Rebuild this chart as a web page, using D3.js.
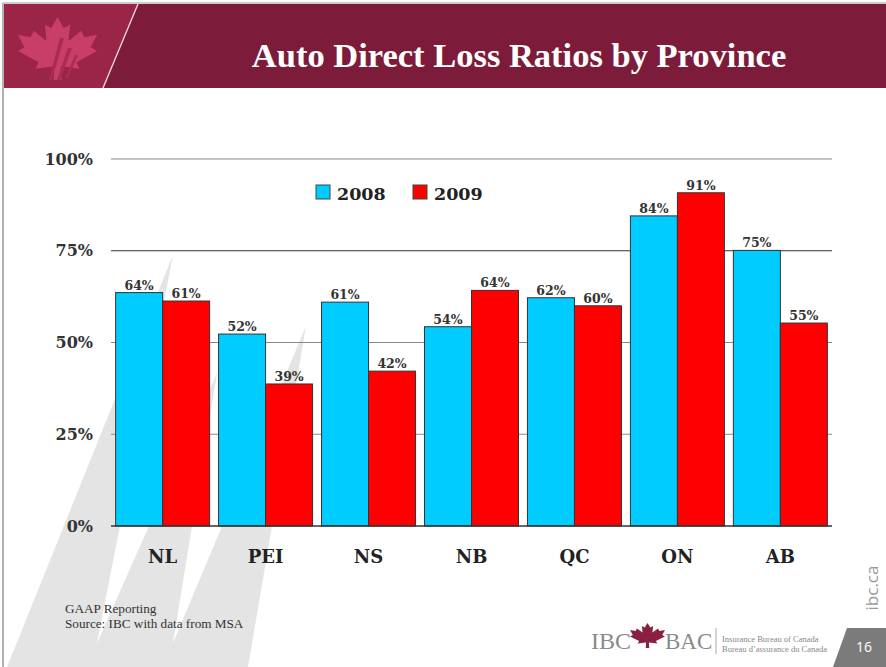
<!DOCTYPE html>
<html>
<head>
<meta charset="utf-8">
<script src="https://cdn.jsdelivr.net/npm/d3@7"></script>
<style>
  body { margin: 0; background: #fff; }
  svg { display: block; }
</style>
</head>
<body>
<script>
const provinces = ["NL", "PEI", "NS", "NB", "QC", "ON", "AB"];
const seriesNames = ["2008", "2009"];
const ratios2008 = [63.6, 52.3, 61.0, 54.3, 62.2, 84.5, 75.1];
const ratios2009 = [61.3, 38.7, 42.2, 64.2, 60.0, 90.8, 55.3];
const labels2008 = ["64%", "52%", "61%", "54%", "62%", "84%", "75%"];
const labels2009 = ["61%", "39%", "42%", "64%", "60%", "91%", "55%"];
const yTicks = [0, 25, 50, 75, 100];

const W = 886, H = 667;
const marginLeft = 111, marginRight = 54, marginTop = 159, marginBottom = 141;
const serif = "'Liberation Serif', serif";
const wideSerif = "'DejaVu Serif', serif";
const colors = { "2008": "#00ccff", "2009": "#ff0000" };

const svg = d3.select("body").append("svg")
  .attr("width", W)
  .attr("height", H);

// background shards (gray with white wedges cut in)
svg.append("polygon")
  .attr("points", "7,667 173,255 97,643 217,373 173,643 306,326 248,667")
  .attr("fill", "#e4e4e4");

// page border
svg.append("line").attr("x1", 3).attr("y1", 3).attr("x2", 3).attr("y2", H)
  .attr("stroke", "#999").attr("stroke-width", 1.5);
svg.append("line").attr("x1", 3).attr("y1", 3).attr("x2", W).attr("y2", 3)
  .attr("stroke", "#bbb").attr("stroke-width", 1.5);

// header band
svg.append("rect").attr("x", 4).attr("y", 4).attr("width", W - 4).attr("height", 84)
  .attr("fill", "#7d1c3a");
svg.append("polygon")
  .attr("points", "4,4 138,4 103,88 4,88")
  .attr("fill", "#9a2547");
svg.append("line").attr("x1", 138).attr("y1", 4).attr("x2", 103).attr("y2", 88)
  .attr("stroke", "#f2dde3").attr("stroke-width", 1.3);

// maple leaf path (unit 100x100)
const leaf = "M50,0 L58,18 L66,12 L64,38 L80,22 L84,32 L100,28 L92,48 L100,54 L74,72 L78,82 L54,78 L55,100 L45,100 L46,78 L22,82 L26,72 L0,54 L8,48 L0,28 L16,32 L20,22 L36,38 L34,12 L42,18 Z";
svg.append("path")
  .attr("d", leaf)
  .attr("transform", "translate(18,17) scale(0.79,0.63)")
  .attr("fill", "#c93e68");
// streaks inside the header leaf
svg.append("g").selectAll("polygon")
  .data([
    [[60, 38], [64, 38], [52, 80], [49, 80]],
    [[68, 48], [72, 48], [60, 80], [57, 80]],
    [[75, 55], [78, 55], [68, 78], [65, 78]]
  ])
  .enter().append("polygon")
  .attr("points", d => d.map(p => p.join(",")).join(" "))
  .attr("fill", "#a92c53");

svg.append("text")
  .attr("x", 519).attr("y", 67)
  .attr("text-anchor", "middle")
  .attr("fill", "#fff")
  .style("font-family", serif)
  .style("font-weight", "bold")
  .style("font-size", "34.5px")
  .text("Auto Direct Loss Ratios by Province");

// chart
const width = W - marginLeft - marginRight;
const height = H - marginTop - marginBottom;
const g = svg.append("g").attr("transform", `translate(${marginLeft},${marginTop})`);

const x0 = d3.scaleBand().domain(provinces).range([0, width]).paddingInner(0.087).paddingOuter(0.045);
const x1 = d3.scaleBand().domain(seriesNames).range([0, x0.bandwidth()]);
const y = d3.scaleLinear().domain([0, 100]).range([height, 0]);

// gridlines
g.append("g").selectAll("line")
  .data(yTicks.filter(t => t > 0))
  .enter().append("line")
  .attr("x1", 0).attr("x2", width)
  .attr("y1", d => y(d)).attr("y2", d => y(d))
  .attr("stroke", d => d === 75 ? "#333" : "#888")
  .attr("stroke-width", 1.2);

// y axis labels
const yAxis = d3.axisLeft(y).tickValues(yTicks).tickFormat(d => d + "%").tickSize(0).tickPadding(18);
g.append("g").call(yAxis)
  .call(a => a.select(".domain").remove())
  .selectAll("text")
  .attr("fill", "#333")
  .style("font-family", wideSerif)
  .style("font-weight", "bold")
  .style("font-size", "16px");

const rows = provinces.map((p, i) => ({
  province: p,
  values: [
    { key: "2008", v: ratios2008[i], label: labels2008[i] },
    { key: "2009", v: ratios2009[i], label: labels2009[i] }
  ]
}));

const groups = g.append("g").selectAll("g")
  .data(rows)
  .enter().append("g")
  .attr("transform", d => `translate(${x0(d.province)},0)`);

groups.selectAll("rect")
  .data(d => d.values)
  .enter().append("rect")
  .attr("x", d => x1(d.key))
  .attr("y", d => y(d.v))
  .attr("width", x1.bandwidth())
  .attr("height", d => height - y(d.v))
  .attr("fill", d => colors[d.key])
  .attr("stroke", "#333")
  .attr("stroke-width", 1);

groups.selectAll("text")
  .data(d => d.values)
  .enter().append("text")
  .attr("x", d => x1(d.key) + x1.bandwidth() / 2)
  .attr("y", d => y(d.v) - 3)
  .attr("text-anchor", "middle")
  .attr("fill", "#333")
  .style("font-family", wideSerif)
  .style("font-weight", "bold")
  .style("font-size", "12.5px")
  .text(d => d.label);

// baseline
g.append("line").attr("x1", 0).attr("x2", width).attr("y1", height).attr("y2", height)
  .attr("stroke", "#333").attr("stroke-width", 1.5);

// x axis labels
const xAxis = d3.axisBottom(x0).tickSize(0).tickPadding(24);
g.append("g").attr("transform", `translate(0,${height})`).call(xAxis)
  .call(a => a.select(".domain").remove())
  .selectAll("text")
  .attr("fill", "#222")
  .style("font-family", wideSerif)
  .style("font-weight", "bold")
  .style("font-size", "18px");

// legend
const legend = svg.append("g").attr("transform", "translate(316,185)");
const legendItems = legend.selectAll("g")
  .data(seriesNames)
  .enter().append("g")
  .attr("transform", (d, i) => `translate(${i * 97},0)`);
legendItems.append("rect")
  .attr("width", 14).attr("height", 14)
  .attr("fill", d => colors[d])
  .attr("stroke", "#444");
legendItems.append("text")
  .attr("x", 21).attr("y", 15)
  .attr("fill", "#222")
  .style("font-family", wideSerif)
  .style("font-weight", "bold")
  .style("font-size", "17.5px")
  .text(d => d);

// footer notes
const notes = svg.append("g").style("font-family", serif).style("font-size", "13.2px").attr("fill", "#333");
notes.append("text").attr("x", 65).attr("y", 613).text("GAAP Reporting");
notes.append("text").attr("x", 65).attr("y", 628).text("Source: IBC with data from MSA");

// bottom-right logo
const logo = svg.append("g");
logo.append("text").attr("x", 591).attr("y", 649)
  .attr("fill", "#8a8a8a").style("font-family", serif).style("font-size", "24px").text("IBC");
logo.append("path")
  .attr("d", leaf)
  .attr("transform", "translate(630,623) scale(0.35,0.25)")
  .attr("fill", "#8b1f3f");
logo.append("text").attr("x", 665).attr("y", 649)
  .attr("fill", "#8a8a8a").style("font-family", serif).style("font-size", "23px").text("BAC");
logo.append("line").attr("x1", 716).attr("x2", 716).attr("y1", 628).attr("y2", 654)
  .attr("stroke", "#aaa");
logo.append("text").attr("x", 722).attr("y", 642)
  .attr("fill", "#888").style("font-family", serif).style("font-size", "8.5px").text("Insurance Bureau of Canada");
logo.append("text").attr("x", 722).attr("y", 652)
  .attr("fill", "#888").style("font-family", serif).style("font-size", "8.5px").text("Bureau d\u2019assurance du Canada");

// page number tab
svg.append("polygon").attr("points", "847,628 886,628 886,667 833,667")
  .attr("fill", "#7b7b7b");
svg.append("text").attr("x", 864).attr("y", 652)
  .attr("text-anchor", "middle").attr("fill", "#fff")
  .style("font-family", "'Open Sans', sans-serif").style("font-size", "14px").text("16");

svg.append("text")
  .attr("transform", "translate(878,588) rotate(-90)")
  .attr("text-anchor", "middle")
  .attr("fill", "#999")
  .style("font-family", "'Open Sans', sans-serif")
  .style("font-size", "17px")
  .text("ibc.ca");
</script>
</body>
</html>
